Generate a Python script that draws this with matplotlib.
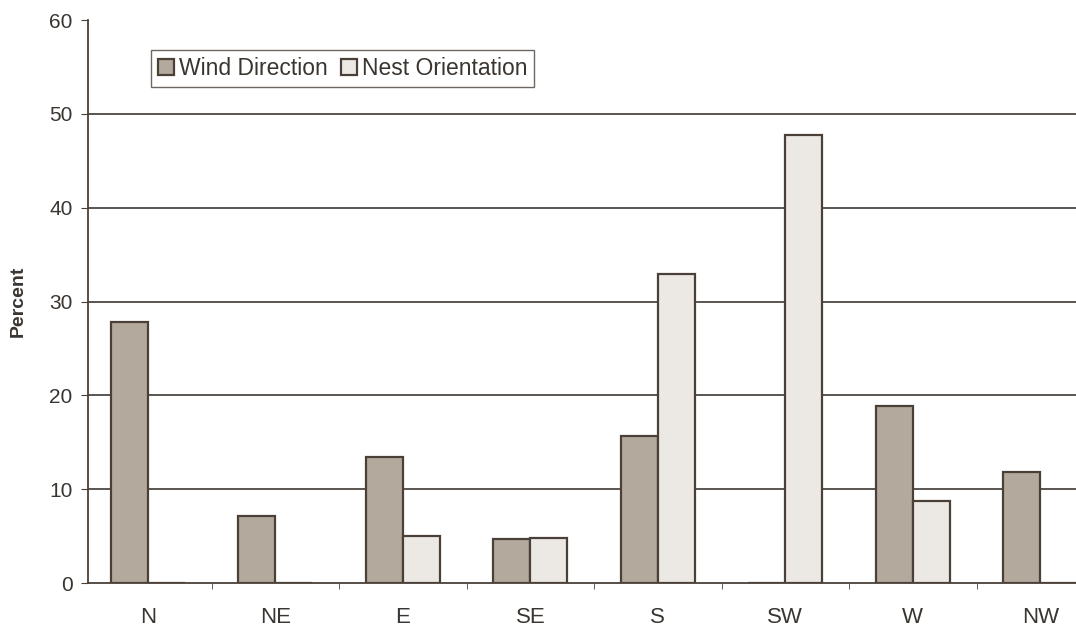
import numpy as np
import matplotlib.pyplot as plt

directions = ['N', 'NE', 'E', 'SE', 'S', 'SW', 'W', 'NW']
wind_direction = [27.8, 7.2, 13.4, 4.7, 15.7, 0, 18.9, 11.8]
nest_orientation = [0, 0, 5.0, 4.8, 32.9, 47.8, 8.8, 0]

plt.rcParams['font.family'] = ['Liberation Sans', 'DejaVu Sans']
text_color = '#3a3530'

fig = plt.figure(figsize=(10.76, 6.29), dpi=100)
ax = fig.add_axes([0.0818, 0.073, 0.9182, 0.895])

x = np.arange(len(directions))
w = 0.29
ax.bar(x - w / 2, wind_direction, w, color='#b3a99c', edgecolor='#4a4038',
       linewidth=1.6, label='Wind Direction', zorder=3)
ax.bar(x + w / 2, nest_orientation, w, color='#ece9e4', edgecolor='#4a4038',
       linewidth=1.6, label='Nest Orientation', zorder=3)

ax.set_ylim(0, 60)
ax.set_xlim(-0.47, 7.28)
ax.set_yticks(range(0, 61, 10))
for yv in range(10, 51, 10):
    ax.axhline(yv, color='#4d4842', linewidth=1.3, zorder=1)

ax.set_xticks(x)
ax.set_xticklabels(directions, fontsize=16, color=text_color)
ax.set_xticks(np.arange(0.5, 7.5, 1), minor=True)
ax.tick_params(axis='x', which='major', length=0, pad=17)
ax.tick_params(axis='x', which='minor', length=4, color='#4a4038')
ax.tick_params(axis='y', labelsize=15, labelcolor=text_color, length=5,
               color='#4a4038', pad=6)

ax.set_ylabel('Percent', fontsize=14, fontweight='bold', color=text_color, labelpad=16)

for side in ['top', 'right']:
    ax.spines[side].set_visible(False)
ax.spines['left'].set_color('#4a4038')
ax.spines['left'].set_linewidth(1.3)
ax.spines['bottom'].set_color('#4a4038')
ax.spines['bottom'].set_linewidth(1.3)
ax.spines['bottom'].set_zorder(4)

leg = ax.legend(loc='upper left', bbox_to_anchor=(0.064, 0.947), ncol=2, fontsize=16.5,
                frameon=True, fancybox=False, edgecolor='#4a4038', handlelength=0.7,
                handleheight=0.7, handletextpad=0.2, columnspacing=0.6,
                borderpad=0.3, borderaxespad=0, labelcolor=text_color)
leg.get_frame().set_linewidth(1.0)

fig.savefig('out.png', dpi=100, facecolor='white')
